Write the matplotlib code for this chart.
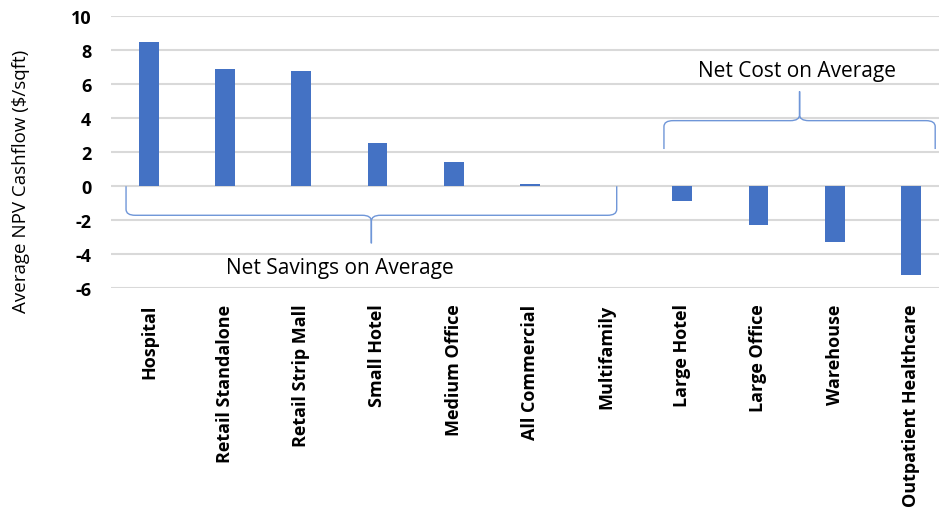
import matplotlib.pyplot as plt
from matplotlib.path import Path
import matplotlib.patches as mpatches

plt.rcParams['font.family'] = ['Open Sans', 'DejaVu Sans']

# data
categories = ['Hospital', 'Retail Standalone', 'Retail Strip Mall', 'Small Hotel',
              'Medium Office', 'All Commercial', 'Multifamily', 'Large Hotel',
              'Large Office', 'Warehouse', 'Outpatient Healthcare']
npv_values = [8.5, 6.9, 6.8, 2.56, 1.44, 0.16, 0.0, -0.86, -2.3, -3.28, -5.2]
y_ticks = [-6, -4, -2, 0, 2, 4, 6, 8, 10]

BAR_COLOR = '#4472C4'
BRACE_COLOR = '#6f96d8'
GRID_COLOR = '#d9d9d9'


def brace(ax, x0, x1, xt, y_end, y_h, y_tip, rx=0.12, ry=0.35):
    """curly brace: ends at y_end, horizontal run at y_h, tip pointing to y_tip"""
    s = 1 if y_tip > y_h else -1   # direction the tip points
    verts = [
        (x0, y_end), (x0, y_h - s * ry), (x0, y_h), (x0 + rx, y_h),
        (xt - rx, y_h), (xt, y_h), (xt, y_h + s * ry), (xt, y_tip),
        (xt, y_h + s * ry), (xt, y_h), (xt + rx, y_h),
        (x1 - rx, y_h), (x1, y_h), (x1, y_h - s * ry), (x1, y_end),
    ]
    codes = [Path.MOVETO, Path.LINETO, Path.CURVE3, Path.CURVE3,
             Path.LINETO, Path.CURVE3, Path.CURVE3, Path.LINETO,
             Path.LINETO, Path.CURVE3, Path.CURVE3,
             Path.LINETO, Path.CURVE3, Path.CURVE3, Path.LINETO]
    ax.add_patch(mpatches.PathPatch(Path(verts, codes), fill=False,
                                    edgecolor=BRACE_COLOR, lw=1.0,
                                    clip_on=False, zorder=4))


fig = plt.figure(figsize=(9.39, 5.10), dpi=100)
ax = fig.add_axes([0.118, 0.433, 0.882, 0.533])

x = range(len(categories))
ax.bar(x, npv_values, width=0.26, color=BAR_COLOR, zorder=3)

ax.set_ylim(-6, 10)
ax.set_xlim(-0.5, 10.37)
ax.set_yticks(y_ticks)
ax.set_yticklabels([str(t) for t in y_ticks], fontsize=13, fontweight='bold')
ax.set_xticks(list(x))
ax.set_xticklabels(categories, rotation=90, fontsize=13, fontweight='bold',
                   va='top')
ax.tick_params(length=0, pad=11)
ax.tick_params(axis='y', pad=14)
ax.yaxis.grid(True, color=GRID_COLOR, lw=1.5, zorder=0)
for sp in ax.spines.values():
    sp.set_visible(False)

fig.text(0.022, 1 - 181 / 510, 'Average NPV Cashflow ($/sqft)', rotation=90,
         va='center', ha='center', fontsize=13.5)

# annotation braces
brace(ax, -0.3, 6.14, 2.92, 0.0, -1.71, -3.36)
brace(ax, 6.76, 10.32, 8.54, 2.19, 3.86, 5.58)
ax.text(2.51, -4.8, 'Net Savings on Average', ha='center', va='center',
        fontsize=15, zorder=5)
ax.text(8.51, 6.79, 'Net Cost on Average', ha='center', va='center',
        fontsize=15, zorder=5)

fig.savefig('out.png', dpi=100)
